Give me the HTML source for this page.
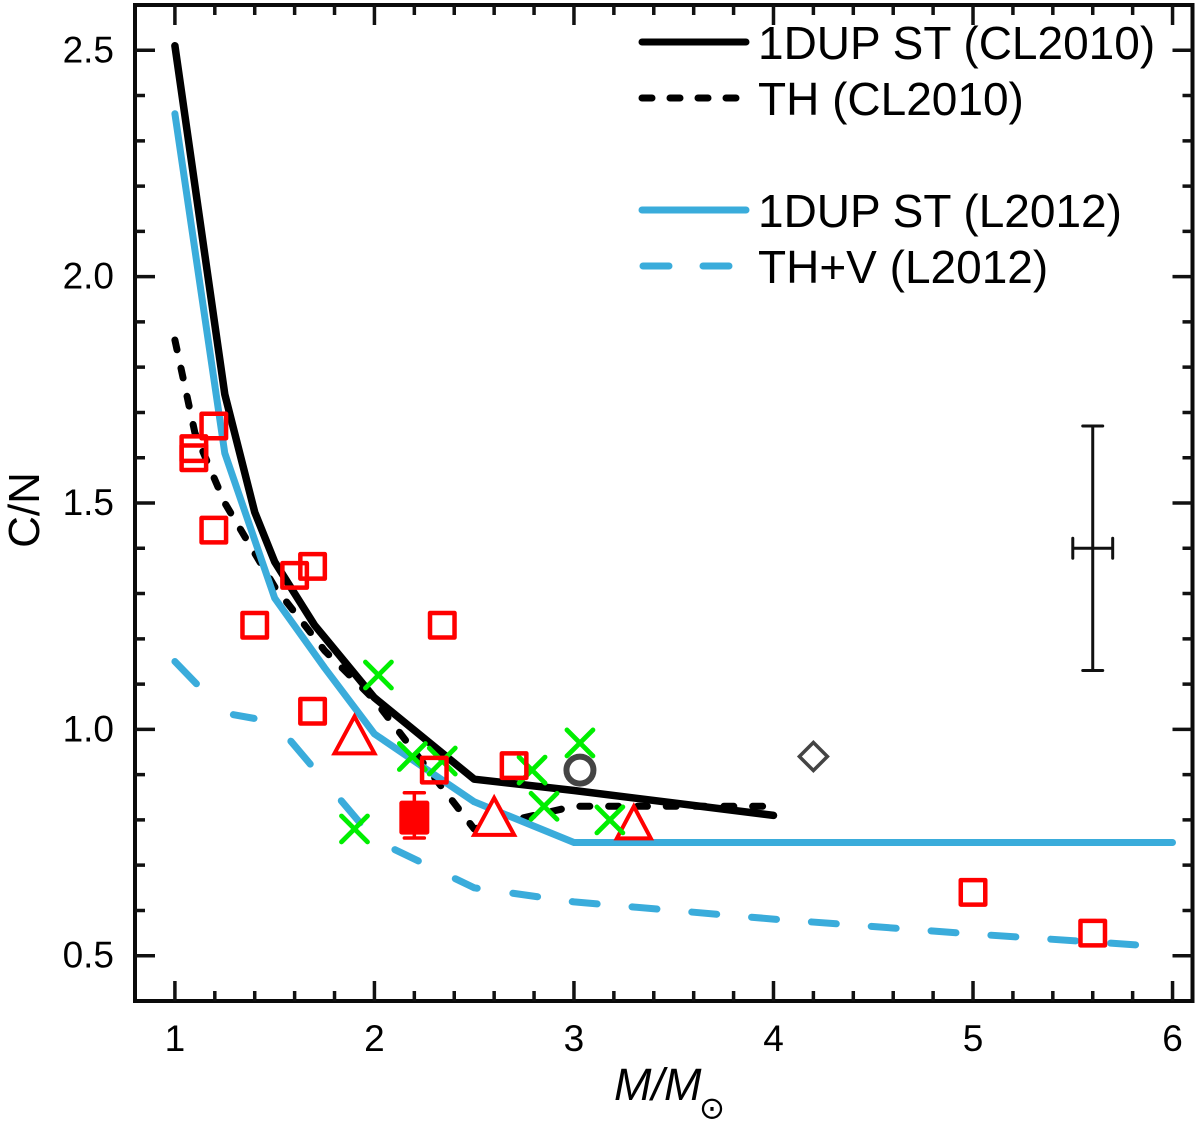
<!DOCTYPE html>
<html lang="en">
<head>
<meta charset="utf-8">
<title>C/N versus stellar mass</title>
<style>
html,body{margin:0;padding:0;background:#fff;}
svg{display:block;}
text{font-family:"Liberation Sans",Arial,sans-serif;fill:#000;}
.tick-label{font-size:37px;}
.legend-label{font-size:46px;}
</style>
</head>
<body>
<svg id="chart" xmlns="http://www.w3.org/2000/svg" width="1200" height="1123" viewBox="0 0 1200 1123">
  <rect x="0" y="0" width="1200" height="1123" fill="#fff"/>
  <g id="marks"></g>
  <g id="axes"></g>
  <text transform="translate(39,510) rotate(-90)" text-anchor="middle" font-size="44">C/N</text>
  <text x="614" y="1100" font-size="45" font-style="italic">M/M</text>
  <text x="712" y="1118.5" text-anchor="middle" font-size="31" style="font-family:'DejaVu Sans',sans-serif">&#8857;</text>
  <g>
    <g>
      <line x1="642" y1="42" x2="746" y2="42" stroke="#000" stroke-width="7" stroke-linecap="round"/>
      <text class="legend-label" x="758" y="59">1DUP ST (CL2010)</text>
    </g>
    <g>
      <line x1="642" y1="98" x2="737" y2="98" stroke="#000" stroke-width="7" stroke-linecap="round" stroke-dasharray="10 18"/>
      <text class="legend-label" x="758" y="115">TH (CL2010)</text>
    </g>
    <g>
      <line x1="642" y1="210" x2="746" y2="210" stroke="#3aacdb" stroke-width="7" stroke-linecap="round"/>
      <text class="legend-label" x="758" y="227">1DUP ST (L2012)</text>
    </g>
    <g>
      <line x1="643" y1="266" x2="730" y2="266" stroke="#3aacdb" stroke-width="7" stroke-linecap="round" stroke-dasharray="26 34"/>
      <text class="legend-label" x="758" y="283">TH+V (L2012)</text>
    </g>
  </g>
</svg>
<script>
// Tick values
const xMajorTicks = [1, 2, 3, 4, 5, 6];
const xMinorTicks = [1.2, 1.4, 1.6, 1.8, 2.2, 2.4, 2.6, 2.8, 3.2, 3.4, 3.6, 3.8, 4.2, 4.4, 4.6, 4.8, 5.2, 5.4, 5.6, 5.8];
const yMajorTicks = [0.5, 1.0, 1.5, 2.0, 2.5];
const yMinorTicks = [0.6, 0.7, 0.8, 0.9, 1.1, 1.2, 1.3, 1.4, 1.6, 1.7, 1.8, 1.9, 2.1, 2.2, 2.3, 2.4];
const xTickLabels = ['1', '2', '3', '4', '5', '6'];
const yTickLabels = ['0.5', '1.0', '1.5', '2.0', '2.5'];

// Model tracks
const solidCLMass = [1, 1.25, 1.4, 1.5, 1.7, 2, 2.5, 3, 4];
const solidCLRatio = [2.51, 1.74, 1.48, 1.37, 1.23, 1.07, 0.89, 0.865, 0.81];
const dashedCLMass = [1, 1.1, 1.25, 1.5, 1.75, 2, 2.5, 3, 4];
const dashedCLRatio = [1.86, 1.655, 1.5, 1.315, 1.174, 1.065, 0.78, 0.83, 0.83];
const solidLMass = [1, 1.25, 1.5, 1.75, 2, 2.5, 3, 6];
const solidLRatio = [2.36, 1.61, 1.29, 1.136, 0.99, 0.84, 0.75, 0.75];
const dashedLMass = [1, 1.25, 1.5, 2, 2.5, 3, 4, 5, 5.82];
const dashedLRatio = [1.15, 1.036, 1.016, 0.756, 0.65, 0.619, 0.581, 0.548, 0.524];

// Observed stars
const squareMass = [1.195, 1.095, 1.095, 1.195, 1.6, 1.69, 1.4, 2.34, 1.69, 2.3, 2.7, 5.0, 5.6];
const squareRatio = [1.67, 1.62, 1.60, 1.44, 1.34, 1.36, 1.23, 1.23, 1.04, 0.91, 0.92, 0.64, 0.55];
const crossMass = [2.02, 2.19, 2.34, 2.79, 3.03, 2.85, 3.18, 1.9];
const crossRatio = [1.12, 0.94, 0.93, 0.91, 0.97, 0.83, 0.80, 0.78];
const largeTriangleMass = [1.9, 2.6];
const largeTriangleRatio = [0.98, 0.80];
const smallTriangleMass = [3.3];
const smallTriangleRatio = [0.79];
const filledMass = [2.2];
const filledRatio = [0.805];
const filledLow = [0.76];
const filledHigh = [0.86];
const circleMass = [3.03];
const circleRatio = [0.91];
const diamondMass = [4.2];
const diamondRatio = [0.94];

// Representative error bar
const errorMass = 5.6;
const errorRatio = 1.40;
const errorMassDelta = 0.1;
const errorRatioDelta = 0.27;

const plotLeft = 135, plotRight = 1192.5, plotTop = 5, plotBottom = 1001;
const xMin = 0.8, xMax = 6.1, yMin = 0.4, yMax = 2.6;
function sx(v) { return plotLeft + (v - xMin) / (xMax - xMin) * (plotRight - plotLeft); }
function sy(v) { return plotBottom - (v - yMin) / (yMax - yMin) * (plotBottom - plotTop); }

const NS = 'http://www.w3.org/2000/svg';
const marksGroup = document.getElementById('marks');
const axesGroup = document.getElementById('axes');
function mk(parent, tag, attrs) {
  const el = document.createElementNS(NS, tag);
  for (const k in attrs) el.setAttribute(k, attrs[k]);
  parent.appendChild(el);
  return el;
}
function pts(xs, ys) { return xs.map(function (x, i) { return sx(x).toFixed(1) + ',' + sy(ys[i]).toFixed(1); }).join(' '); }

const BLUE = '#3aacdb', RED = '#ff0000', GREEN = '#00ee00', GREY = '#444444';
const BLUE_DASH_STYLE = '31 49.5 21 46 30 48 29 45 26 41 24 36 25 35 25 35 25 35 25 35 25 35 25 35 25 35 25 35 25 35 25 35 25 35';

// Lines
const lineDashedCL = mk(marksGroup, 'polyline', { points: pts(dashedCLMass, dashedCLRatio), fill: 'none', stroke: '#000', 'stroke-width': 7, 'stroke-linecap': 'round', 'stroke-linejoin': 'round', 'stroke-dasharray': '10 18.8' });


const lineSolidCL = mk(marksGroup, 'polyline', { points: pts(solidCLMass, solidCLRatio), fill: 'none', stroke: '#000', 'stroke-width': 7.5, 'stroke-linecap': 'round', 'stroke-linejoin': 'round' });


const lineSolidL = mk(marksGroup, 'polyline', { points: pts(solidLMass, solidLRatio), fill: 'none', stroke: BLUE, 'stroke-width': 7, 'stroke-linecap': 'round', 'stroke-linejoin': 'round' });


const lineDashedL = mk(marksGroup, 'polyline', { points: pts(dashedLMass, dashedLRatio), fill: 'none', stroke: BLUE, 'stroke-width': 7, 'stroke-linecap': 'round', 'stroke-linejoin': 'round', 'stroke-dasharray': BLUE_DASH_STYLE });



// Triangles (white filled)
function triangle(mx, my, halfWidth, up, down) {
  const cx = sx(mx), cy = sy(my);
  const p = [(cx - halfWidth) + ',' + (cy + down), cx + ',' + (cy - up), (cx + halfWidth) + ',' + (cy + down)].join(' ');
  return mk(marksGroup, 'polygon', { points: p, fill: '#fff', stroke: RED, 'stroke-width': 4, 'stroke-linejoin': 'miter' });
}
largeTriangleMass.forEach(function (m, i) {
  const t = triangle(m, largeTriangleRatio[i], 20, 22, 15);
  
  
});
smallTriangleMass.forEach(function (m, i) {
  const t = triangle(m, smallTriangleRatio[i], 17, 18, 14);
  
  
});

// Crosses
crossMass.forEach(function (m, i) {
  const cx = sx(m), cy = sy(crossRatio[i]), h = 13;
  const c = mk(marksGroup, 'path', { d: 'M' + (cx - h) + ' ' + (cy - h) + 'L' + (cx + h) + ' ' + (cy + h) + 'M' + (cx - h) + ' ' + (cy + h) + 'L' + (cx + h) + ' ' + (cy - h), fill: 'none', stroke: GREEN, 'stroke-width': 4.8, 'stroke-linecap': 'round' });
  
  
});

// Open squares
squareMass.forEach(function (m, i) {
  const s = mk(marksGroup, 'rect', { x: sx(m) - 12.25, y: sy(squareRatio[i]) - 12.25, width: 24.5, height: 24.5, fill: 'none', stroke: RED, 'stroke-width': 4.5, 'stroke-linejoin': 'round' });
  
  
});

// Filled square with error bar
filledMass.forEach(function (m, i) {
  const cx = sx(m), yLow = sy(filledLow[i]), yHigh = sy(filledHigh[i]);
  const bar = mk(marksGroup, 'path', { d: 'M' + cx + ' ' + yHigh + 'V' + yLow + 'M' + (cx - 10) + ' ' + yHigh + 'H' + (cx + 10) + 'M' + (cx - 10) + ' ' + yLow + 'H' + (cx + 10), fill: 'none', stroke: RED, 'stroke-width': 3.5, 'stroke-linecap': 'round' });
  
  
  const f = mk(marksGroup, 'rect', { x: cx - 15, y: sy(filledRatio[i]) - 17, width: 30, height: 34, rx: 2.5, fill: RED });
  
  
});

// Circle
circleMass.forEach(function (m, i) {
  const c = mk(marksGroup, 'circle', { cx: sx(m), cy: sy(circleRatio[i]), r: 13.5, fill: 'none', stroke: GREY, 'stroke-width': 6 });
  
  
});

// Diamond
diamondMass.forEach(function (m, i) {
  const cx = sx(m), cy = sy(diamondRatio[i]), h = 14;
  const d = mk(marksGroup, 'polygon', { points: (cx - h) + ',' + cy + ' ' + cx + ',' + (cy - h) + ' ' + (cx + h) + ',' + cy + ' ' + cx + ',' + (cy + h), fill: 'none', stroke: GREY, 'stroke-width': 3.5 });
  
  
});

// Representative error bar
(function () {
  const cx = sx(errorMass), cy = sy(errorRatio);
  const x1 = sx(errorMass - errorMassDelta), x2 = sx(errorMass + errorMassDelta);
  const y1 = sy(errorRatio + errorRatioDelta), y2 = sy(errorRatio - errorRatioDelta);
  const e = mk(marksGroup, 'path', {
    d: 'M' + cx + ' ' + y1 + 'V' + y2 + 'M' + (cx - 10) + ' ' + y1 + 'H' + (cx + 10) + 'M' + (cx - 10) + ' ' + y2 + 'H' + (cx + 10) +
       'M' + x1 + ' ' + cy + 'H' + x2 + 'M' + x1 + ' ' + (cy - 10) + 'V' + (cy + 10) + 'M' + x2 + ' ' + (cy - 10) + 'V' + (cy + 10),
    fill: 'none', stroke: '#111', 'stroke-width': 3, 'stroke-linecap': 'round'
  });
  
  
})();

// Axes frame and ticks
const frame = mk(axesGroup, 'rect', { x: plotLeft, y: plotTop, width: plotRight - plotLeft, height: plotBottom - plotTop, fill: 'none', stroke: '#0a0a0a', 'stroke-width': 4 });



function xTick(v, len, name) {
  const x = sx(v);
  const t = mk(axesGroup, 'path', { d: 'M' + x + ' ' + plotBottom + 'v' + (-len) + 'M' + x + ' ' + plotTop + 'v' + len, stroke: '#111', 'stroke-width': 3.5, fill: 'none' });
  
  
}
function yTick(v, len, name) {
  const y = sy(v);
  const t = mk(axesGroup, 'path', { d: 'M' + plotLeft + ' ' + y + 'h' + len + 'M' + plotRight + ' ' + y + 'h' + (-len), stroke: '#111', 'stroke-width': 3.5, fill: 'none' });
  
  
}
xMajorTicks.forEach(function (v) { xTick(v, 20, 'x-major-tick'); });
xMinorTicks.forEach(function (v) { xTick(v, 10, 'x-minor-tick'); });
yMajorTicks.forEach(function (v) { yTick(v, 20, 'y-major-tick'); });
yMinorTicks.forEach(function (v) { yTick(v, 10, 'y-minor-tick'); });

xMajorTicks.forEach(function (v, i) {
  const t = mk(axesGroup, 'text', { x: sx(v), y: 1051, 'text-anchor': 'middle', 'class': 'tick-label' });
  t.textContent = xTickLabels[i];
  
  
});
yMajorTicks.forEach(function (v, i) {
  const t = mk(axesGroup, 'text', { x: 114, y: sy(v) + 12, 'text-anchor': 'end', 'class': 'tick-label' });
  t.textContent = yTickLabels[i];
  
  
});
</script>
</body>
</html>
